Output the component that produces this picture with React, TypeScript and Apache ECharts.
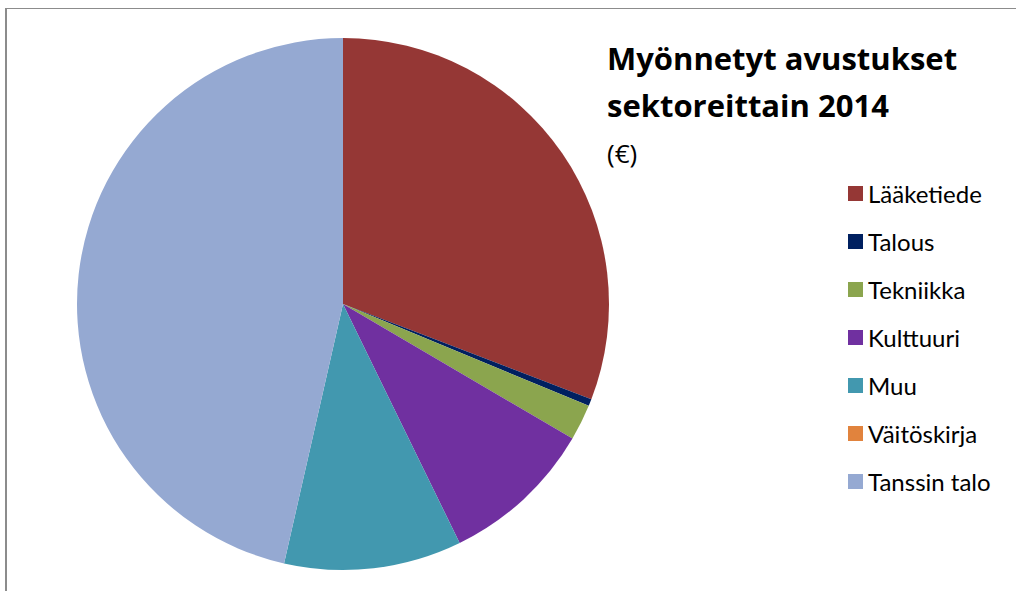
import React, { useEffect, useRef } from "react";
import * as echarts from "echarts";

const categories = ["Lääketiede", "Talous", "Tekniikka", "Kulttuuri", "Muu", "Väitöskirja", "Tanssin talo"];
const values = [30.83, 0.42, 2.19, 9.33, 10.78, 0, 46.44];
const colors = ["#953735", "#002060", "#8BA54E", "#7030A0", "#4298AF", "#E1833D", "#95A9D2"];
const titleText = "Myönnetyt avustukset\nsektoreittain 2014";
const subText = "(€)";

export default function App() {
  const ref = useRef<HTMLDivElement>(null);
  useEffect(() => {
    if (!ref.current) return;
    const chart = echarts.init(ref.current, null, { renderer: "svg" });
    chart.setOption({
      animation: false,
      backgroundColor: "#ffffff",
      color: colors,
      title: {
        text: titleText,
        subtext: subText,
        left: 602,
        top: 29,
        itemGap: 9,
        textStyle: { fontFamily: "Open Sans", fontSize: 31, fontWeight: "bold", color: "#000", lineHeight: 47 },
        subtextStyle: { fontFamily: "Open Sans", fontSize: 26, color: "#000", lineHeight: 31 },
      },
      legend: {
        orient: "vertical",
        left: 848,
        top: 181,
        padding: 0,
        icon: "rect",
        itemWidth: 15,
        itemHeight: 15,
        itemGap: 23,
        selectedMode: false,
        data: categories,
        textStyle: { fontFamily: "Lato", fontSize: 24, color: "#000", lineHeight: 25 },
      },
      graphic: [
        { type: "line", shape: { x1: 5, y1: 8.5, x2: 1016, y2: 8.5 }, style: { stroke: "#8c8c8c", lineWidth: 1 } },
        { type: "line", shape: { x1: 6, y1: 8, x2: 6, y2: 591 }, style: { stroke: "#8c8c8c", lineWidth: 2 } },
      ],
      series: [
        {
          type: "pie",
          center: [343, 304],
          radius: [0, 266],
          startAngle: 90,
          clockwise: true,
          minAngle: 0,
          avoidLabelOverlap: false,
          label: { show: false },
          labelLine: { show: false },
          emphasis: { disabled: true },
          itemStyle: { borderWidth: 0 },
          data: categories.map((name, i) => ({ name, value: values[i] })),
        },
      ],
    });
    return () => chart.dispose();
  }, []);
  return <div ref={ref} style={{ position: "fixed", left: 0, top: 0, width: 1016, height: 591 }} />;
}
